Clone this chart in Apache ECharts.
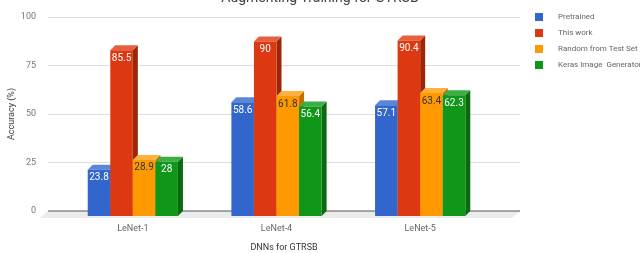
<!DOCTYPE html>
<html><head><meta charset="utf-8">
<script src="https://cdn.jsdelivr.net/npm/echarts@6/dist/echarts.min.js"></script>
<style>html,body{margin:0;padding:0;background:#fff}#c{width:640px;height:253px}</style>
</head><body><div id="c"></div>
<script>
const categories = ['LeNet-1', 'LeNet-4', 'LeNet-5'];
const seriesNames = ['Pretrained', 'This work', 'Random from Test Set', 'Keras Image  Generator'];
const pretrained = [23.8, 58.6, 57.1];
const thisWork = [85.5, 90, 90.4];
const randomTest = [28.9, 61.8, 63.4];
const keras = [28, 56.4, 62.3];
const yTicks = [0, 25, 50, 75, 100];

const values = [pretrained, thisWork, randomTest, keras];
const colors = ['#3366cc', '#dc3912', '#ff9900', '#109618'];
const sideColors = ['#1f4a9e', '#9e2608', '#c07000', '#0b6a10'];
const topColors = ['#5a85d8', '#e6603f', '#ffb03f', '#3cae43'];
const labelColors = ['#fff', '#fff', '#333', '#fff'];
const D = 5;

function barRender(s) {
  return function (params, api) {
    const ci = api.value(0), v = api.value(1);
    const p = api.coord([ci, v]);
    const z = api.coord([ci, 0]);
    const band = api.size([1, 0])[0];
    const w = band * 0.157;
    const x0 = p[0] + (s - 2) * w, x1 = x0 + w;
    const yt = p[1] + D, yb = z[1] + D;
    return {
      type: 'group',
      children: [
        {type: 'polygon', shape: {points: [[x1, yt], [x1 + D, yt - D], [x1 + D, yb - D], [x1, yb]]}, style: {fill: sideColors[s]}},
        {type: 'polygon', shape: {points: [[x0, yt], [x0 + D, yt - D], [x1 + D, yt - D], [x1, yt]]}, style: {fill: topColors[s]}},
        {type: 'rect', shape: {x: x0, y: yt, width: w, height: yb - yt}, style: {fill: colors[s]}},
        {type: 'text', x: (x0 + x1) / 2, y: yt + 3, style: {text: String(v), fill: labelColors[s], font: '10px Roboto, sans-serif', align: 'center', verticalAlign: 'top'}}
      ]
    };
  };
}

const series = [{
  type: 'custom', xAxisIndex: 1, yAxisIndex: 1, silent: true,
  data: [[0, 0]],
  renderItem: function (params, api) {
    const a = api.coord([0, 0]), b = api.coord([1, 0]);
    return {type: 'group', children: [
      {type: 'polygon', shape: {points: [[a[0] - 8, a[1] + 7], [a[0], a[1]], [b[0], b[1]], [b[0] - 8, b[1] + 7]]}, style: {fill: '#ebebeb'}},
      {type: 'line', shape: {x1: a[0], y1: a[1], x2: b[0], y2: b[1]}, style: {stroke: '#555', lineWidth: 1}}
    ]};
  }
}];
values.forEach(function (arr, s) {
  series.push({
    name: seriesNames[s], type: 'custom', xAxisIndex: 0, yAxisIndex: 0,
    itemStyle: {color: colors[s]},
    encode: {x: 0, y: 1},
    data: arr.map(function (v, i) { return [i, v]; }),
    renderItem: barRender(s)
  });
});

const chart = echarts.init(document.getElementById('c'), null, {renderer: 'canvas'});
chart.setOption({
  animation: false,
  title: {text: 'Augmenting Training for GTRSB', left: 'center', top: -14,
    textStyle: {fontSize: 14, fontWeight: 'normal', color: '#444', fontFamily: 'Roboto, sans-serif'}},
  legend: {orient: 'vertical', left: 535, top: 13, padding: 0, itemWidth: 8, itemHeight: 8, itemGap: 8, icon: 'rect',
    data: seriesNames, textStyle: {fontSize: 8, color: '#666', fontFamily: 'Roboto, sans-serif', padding: [0, 0, 0, 10]}},
  grid: [
    {left: 61, right: 148, top: 17, bottom: 42, containLabel: false, outerBoundsMode: 'none'},
    {left: 48, right: 120, top: 17, bottom: 42, containLabel: false, outerBoundsMode: 'none'}
  ],
  xAxis: [
    {type: 'category', gridIndex: 0, data: categories, axisLine: {show: false}, axisTick: {show: false},
      axisLabel: {margin: 13, fontSize: 9, color: '#666', fontFamily: 'Roboto, sans-serif'}},
    {type: 'value', gridIndex: 1, min: 0, max: 1, axisLine: {show: false}, axisTick: {show: false},
      axisLabel: {show: false}, splitLine: {show: false},
      name: 'DNNs for GTRSB', nameLocation: 'middle', nameGap: 32, nameMoveOverlap: false,
      nameTextStyle: {fontSize: 9, color: '#333', fontFamily: 'Roboto, sans-serif'}}
  ],
  yAxis: [
    {type: 'value', gridIndex: 0, min: 0, max: 100, show: false, splitLine: {show: false}},
    {type: 'value', gridIndex: 1, min: yTicks[0], max: yTicks[yTicks.length - 1], interval: 25,
      axisLine: {show: false}, axisTick: {show: false},
      axisLabel: {margin: 12, fontSize: 9, color: '#777', fontFamily: 'Roboto, sans-serif'},
      splitLine: {lineStyle: {color: '#ddd'}},
      name: 'Accuracy (%)', nameLocation: 'middle', nameGap: 32, nameMoveOverlap: false,
      nameTextStyle: {fontSize: 9, color: '#444', fontFamily: 'Roboto, sans-serif'}}
  ],
  series: series
});
</script></body></html>
